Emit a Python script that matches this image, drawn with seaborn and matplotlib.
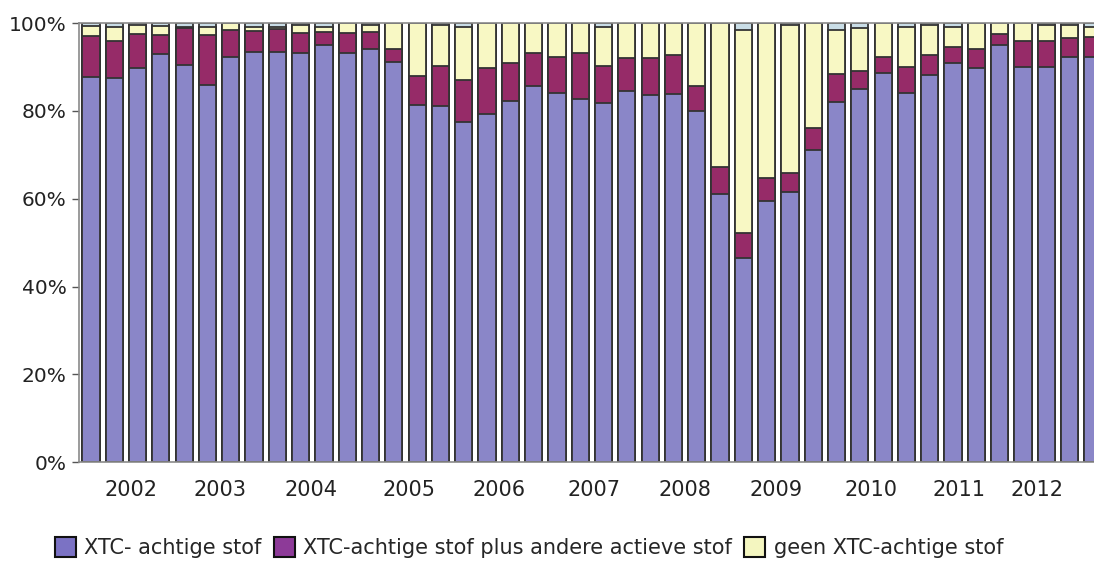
import numpy as np
import matplotlib
matplotlib.use("Agg")
import matplotlib.pyplot as plt
from matplotlib.patches import Patch
import seaborn as sns

sns.set_theme(style="white")
plt.rcParams['font.family'] = ['DejaVu Sans']

# ==========================
# DATA (% per kwartaal, 2002-2012)
# ==========================
kwartaal = list(range(44))

xtc = [87.8, 87.5, 89.8, 92.9, 90.4, 85.9, 92.2, 93.5, 93.5, 93.1, 95.0,
       93.1, 94.1, 91.2, 81.3, 81.1, 77.5, 79.3, 82.3, 85.6, 84.0, 82.8,
       81.9, 84.5, 83.6, 83.8, 80.0, 61.0, 46.5, 59.5, 61.6, 71.1, 82.1,
       85.0, 88.7, 84.1, 88.2, 91.0, 89.7, 95.0, 89.9, 89.9, 92.3, 92.3]

xtc_plus = [9.2, 8.5, 7.8, 4.5, 8.4, 11.5, 6.2, 4.7, 5.1, 4.7, 3.0,
            4.7, 3.9, 3.0, 6.6, 9.1, 9.5, 10.5, 8.7, 7.6, 8.3, 10.3,
            8.3, 7.5, 8.4, 8.9, 5.6, 6.3, 5.7, 5.2, 4.2, 4.9, 6.4,
            4.1, 3.6, 5.8, 4.5, 3.5, 4.5, 2.5, 6.0, 6.0, 4.2, 4.5]

geen_xtc = [2.4, 3.2, 2.0, 2.0, 0.4, 1.8, 1.6, 1.0, 0.6, 1.7, 1.2,
            2.2, 1.6, 5.8, 12.1, 9.3, 12.2, 10.2, 9.0, 6.8, 7.7, 6.9,
            9.0, 8.0, 8.0, 7.3, 14.4, 32.7, 46.3, 35.3, 33.7, 24.0, 10.0,
            9.7, 7.7, 9.1, 6.8, 4.7, 5.8, 2.5, 4.1, 3.6, 3.0, 2.2]

# klein restdeel bovenin (niet in legenda)
rest = [0.6, 0.8, 0.4, 0.6, 0.8, 0.8, 0.0, 0.8, 0.8, 0.5, 0.8,
        0.0, 0.4, 0.0, 0.0, 0.5, 0.8, 0.0, 0.0, 0.0, 0.0, 0.0,
        0.8, 0.0, 0.0, 0.0, 0.0, 0.0, 1.5, 0.0, 0.5, 0.0, 1.5,
        1.2, 0.0, 1.0, 0.5, 0.8, 0.0, 0.0, 0.0, 0.5, 0.5, 1.0]

jaren = ['2002', '2003', '2004', '2005', '2006', '2007', '2008', '2009', '2010', '2011', '2012']
jaar_pos = [1.7, 5.55, 9.45, 13.65, 17.5, 21.6, 25.5, 29.4, 33.5, 37.25, 40.6]

labels = ['XTC- achtige stof', 'XTC-achtige stof plus andere actieve stof', 'geen XTC-achtige stof']
kleur_xtc = '#8a86c8'
kleur_plus = '#962b68'
kleur_geen = '#f8f8c4'
kleur_rest = '#c9dde6'
rand = '#333333'

# cumulatieve hoogtes voor gestapelde balken
lagen = np.cumsum(np.array([xtc, xtc_plus, geen_xtc, rest]), axis=0)

# ==========================
# GRAFIEK
# ==========================
fig = plt.figure(figsize=(10.94, 5.63), dpi=100)
ax = fig.add_axes([0.0725, 0.179, 0.9275, 0.78])

for hoogte, kleur in zip(lagen[::-1], [kleur_rest, kleur_geen, kleur_plus, kleur_xtc]):
    sns.barplot(x=kwartaal, y=hoogte, color=kleur, saturation=1, width=0.74,
                edgecolor=rand, linewidth=1.3, ax=ax)

ax.set_ylim(0, 100)
ax.set_xlim(-0.5, 43.05)
ax.set_yticks(range(0, 101, 20))
ax.set_yticklabels([f'{v}%' for v in range(0, 101, 20)], fontsize=14.5, color='#222222')
ax.set_xticks(jaar_pos)
ax.set_xticklabels(jaren, fontsize=15, color='#222222')
ax.set_xticks(np.arange(-0.5, 43.5, 1), minor=True)
ax.tick_params(axis='x', which='major', length=0, pad=13)
ax.tick_params(axis='x', which='minor', length=4, width=1, color='#555555', direction='out')
ax.tick_params(axis='y', length=5, width=1, color='#555555', direction='out', left=True, pad=4)
ax.set_xlabel('')
ax.set_ylabel('')

for kant in ['left', 'bottom', 'top']:
    ax.spines[kant].set_color('#8a8a8a')
    ax.spines[kant].set_linewidth(1.2)
ax.spines['right'].set_visible(False)

handles = [Patch(facecolor='#7b72c4', edgecolor='#111111', linewidth=1.5),
           Patch(facecolor='#8d3a98', edgecolor='#111111', linewidth=1.5),
           Patch(facecolor='#f4f6c0', edgecolor='#111111', linewidth=1.5)]
fig.legend(handles, labels, loc='lower left', bbox_to_anchor=(0.033, -0.025), ncol=3,
           frameon=False, fontsize=15, handlelength=1.0, handleheight=1.1,
           handletextpad=0.4, columnspacing=0.6)

plt.savefig('out.png', dpi=100)
